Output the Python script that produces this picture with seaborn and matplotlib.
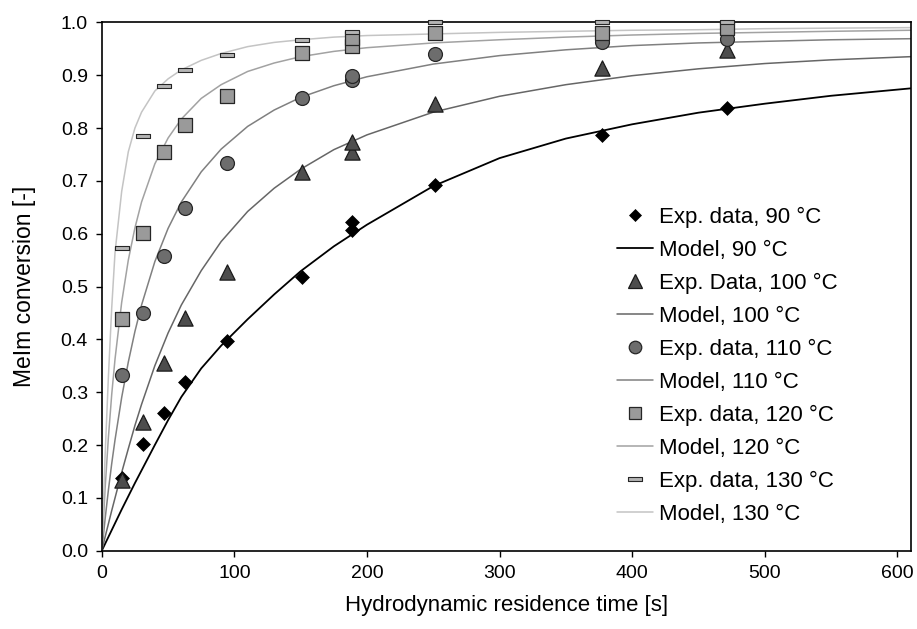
import numpy as np
import pandas as pd
import matplotlib
matplotlib.use("Agg")
import matplotlib.pyplot as plt
from matplotlib.path import Path
from matplotlib.lines import Line2D
import seaborn as sns

# ---------------- data ----------------
exp_t = [15.6, 31.4, 47.0, 62.8, 94.5, 151.0, 188.7, 188.7, 251.6, 377.4, 471.7]
exp90 = [0.137, 0.202, 0.261, 0.320, 0.397, 0.518, 0.607, 0.623, 0.693, 0.787, 0.837]
exp100 = [0.134, 0.243, 0.356, 0.440, 0.528, 0.716, 0.755, 0.773, 0.846, 0.914, 0.948]
exp110 = [0.333, 0.449, 0.558, 0.648, 0.734, 0.857, 0.891, 0.899, 0.941, 0.962, 0.969]
exp120 = [0.439, 0.602, 0.755, 0.806, 0.861, 0.942, 0.955, 0.970, 0.979, 0.980, 0.990]
exp130_t = [15.6, 31.4, 47.0, 62.8, 94.5, 151.0, 188.7, 251.6, 377.4, 471.7]
exp130 = [0.572, 0.784, 0.880, 0.909, 0.939, 0.967, 0.981, 1.000, 1.000, 1.000]

model_t = [0, 2.5, 5, 7.5, 10, 15, 20, 25, 30, 40, 50, 60, 75, 90, 110, 130,
           150, 175, 200, 250, 300, 350, 400, 450, 500, 550, 610]
model90 = [0, 0.013, 0.026, 0.039, 0.052, 0.078, 0.103, 0.128, 0.152, 0.200, 0.247,
           0.291, 0.345, 0.388, 0.438, 0.485, 0.529, 0.576, 0.617, 0.690, 0.743,
           0.780, 0.807, 0.829, 0.846, 0.861, 0.875]
model100 = [0, 0.026, 0.051, 0.076, 0.100, 0.148, 0.193, 0.237, 0.277, 0.350, 0.412,
            0.465, 0.530, 0.585, 0.642, 0.686, 0.722, 0.759, 0.787, 0.830, 0.860,
            0.882, 0.899, 0.912, 0.922, 0.929, 0.935]
model110 = [0, 0.060, 0.115, 0.165, 0.210, 0.290, 0.357, 0.415, 0.465, 0.547, 0.610,
            0.660, 0.717, 0.760, 0.803, 0.834, 0.858, 0.880, 0.897, 0.921, 0.937,
            0.948, 0.956, 0.961, 0.964, 0.967, 0.969]
model120 = [0, 0.118, 0.215, 0.296, 0.363, 0.470, 0.550, 0.611, 0.660, 0.732, 0.781,
            0.817, 0.856, 0.882, 0.907, 0.923, 0.935, 0.945, 0.952, 0.961, 0.967,
            0.972, 0.976, 0.979, 0.981, 0.983, 0.985]
model130 = [0, 0.180, 0.330, 0.460, 0.565, 0.680, 0.755, 0.800, 0.830, 0.870, 0.893,
            0.910, 0.928, 0.941, 0.954, 0.962, 0.967, 0.972, 0.975, 0.978, 0.981,
            0.983, 0.985, 0.986, 0.988, 0.989, 0.990]

exp_labels = ["Exp. data, 90 °C", "Exp. Data, 100 °C", "Exp. data, 110 °C",
              "Exp. data, 120 °C", "Exp. data, 130 °C"]
model_labels = ["Model, 90 °C", "Model, 100 °C", "Model, 110 °C",
                "Model, 120 °C", "Model, 130 °C"]
x_ticks = [0, 100, 200, 300, 400, 500, 600]
y_ticks = [0.0, 0.1, 0.2, 0.3, 0.4, 0.5, 0.6, 0.7, 0.8, 0.9, 1.0]

# ---------------- style ----------------
sns.set_theme(style="ticks")
plt.rcParams['font.family'] = ['Liberation Sans', 'DejaVu Sans']
plt.rcParams['text.color'] = 'black'
plt.rcParams['axes.labelcolor'] = 'black'
plt.rcParams['xtick.color'] = 'black'
plt.rcParams['ytick.color'] = 'black'

dash = Path([(-1, -0.3), (1, -0.3), (1, 0.3), (-1, 0.3), (-1, -0.3)],
            [Path.MOVETO, Path.LINETO, Path.LINETO, Path.LINETO, Path.CLOSEPOLY])

line_colors = ['#000000', '#666666', '#808080', '#a2a2a2', '#c4c4c4']
line_widths = [1.3, 1.1, 1.1, 1.1, 1.1]
marker_specs = [
    dict(marker='D', s=50, color='#000000', edgecolor='#000000', linewidth=0.5),
    dict(marker='^', s=120, color='#4d4d4d', edgecolor='#1a1a1a', linewidth=0.9),
    dict(marker='o', s=100, color='#6d6d6d', edgecolor='#262626', linewidth=0.9),
    dict(marker='s', s=100, color='#9a9a9a', edgecolor='#262626', linewidth=0.9),
    dict(marker=dash, s=115, color='#b5b5b5', edgecolor='#262626', linewidth=0.8),
]

fig = plt.figure(figsize=(9.17, 6.29), dpi=100)
ax = fig.add_axes([0.111, 0.1245, 0.882, 0.84])

models = [model90, model100, model110, model120, model130]
exps = [(exp_t, exp90), (exp_t, exp100), (exp_t, exp110), (exp_t, exp120), (exp130_t, exp130)]

for i in range(5):
    dfm = pd.DataFrame({'t': model_t, 'X': models[i]})
    sns.lineplot(data=dfm, x='t', y='X', ax=ax, color=line_colors[i],
                 linewidth=line_widths[i], estimator=None, sort=False,
                 legend=False, zorder=2)

for i in range(5):
    t, v = exps[i]
    dfe = pd.DataFrame({'t': t, 'X': v})
    sp = marker_specs[i]
    sns.scatterplot(data=dfe, x='t', y='X', ax=ax, marker=sp['marker'], s=sp['s'],
                    color=sp['color'], edgecolor=sp['edgecolor'],
                    linewidth=sp['linewidth'], legend=False, zorder=3 + i,
                    clip_on=False)

ax.set_xlim(0, 610)
ax.set_ylim(0, 1.0)
ax.set_xticks(x_ticks)
ax.set_yticks(y_ticks)
ax.set_yticklabels([f"{v:.1f}" for v in y_ticks])
ax.tick_params(axis='both', direction='out', length=4, width=1.0, labelsize=14, pad=6)
for sp_ in ax.spines.values():
    sp_.set_visible(True)
    sp_.set_color('black')
    sp_.set_linewidth(1.2)
ax.set_xlabel("Hydrodynamic residence time [s]", fontsize=16, labelpad=10)
ax.set_ylabel("MeIm conversion [-]", fontsize=16.5, labelpad=18)

# legend in the reference order
legend_msizes = [6.5, 9.5, 9.0, 9.0, 9.5]
handles, labels = [], []
for i in range(5):
    sp = marker_specs[i]
    handles.append(Line2D([], [], linestyle='none', marker=sp['marker'],
                          markersize=legend_msizes[i], markerfacecolor=sp['color'],
                          markeredgecolor=sp['edgecolor'], markeredgewidth=sp['linewidth']))
    labels.append(exp_labels[i])
    handles.append(Line2D([], [], color=line_colors[i], linewidth=line_widths[i]))
    labels.append(model_labels[i])
ax.legend(handles, labels, loc='center left', bbox_to_anchor=(0.637, 0.35),
          frameon=False, fontsize=16, handlelength=1.6, handletextpad=0.3,
          labelspacing=0.54, borderaxespad=0, borderpad=0)

fig.savefig("out.png", dpi=100, facecolor='white')
